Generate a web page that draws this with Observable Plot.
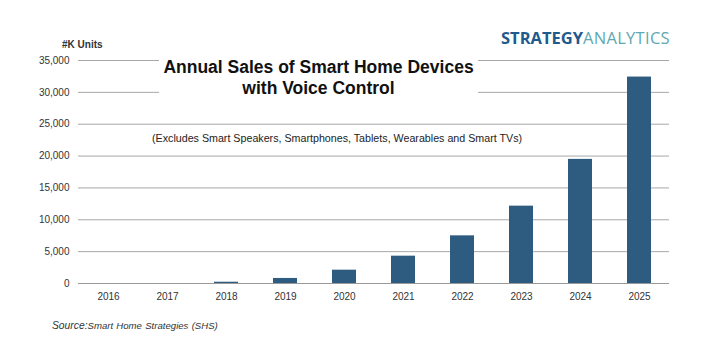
<!DOCTYPE html>
<html>
<head>
<meta charset="utf-8">
<script src="https://cdn.jsdelivr.net/npm/d3@7"></script>
<script src="https://cdn.jsdelivr.net/npm/@observablehq/plot@0.6"></script>
<style>
  html, body { margin: 0; padding: 0; background: #fff; }
  #wrap { position: relative; width: 709px; height: 359px; font-family: "Liberation Sans", Arial, sans-serif; }
  .ov { position: absolute; white-space: nowrap; }
</style>
</head>
<body>
<div id="wrap"></div>
<script>
const years = ["2016","2017","2018","2019","2020","2021","2022","2023","2024","2025"];
const units = [0, 0, 200, 790, 2090, 4290, 7480, 12140, 19480, 32400];
const yTicks = [0, 5000, 10000, 15000, 20000, 25000, 30000, 35000];
const titleLines = ["Annual Sales of Smart Home Devices", "with Voice Control"];
const subtitle = "(Excludes Smart Speakers, Smartphones, Tablets, Wearables and Smart TVs)";
const yLabel = "#K Units";
const sourceLabel = "Source:";
const sourceText = "Smart Home Strategies (SHS)";
const logoA = "STRATEGY";
const logoB = "ANALYTICS";

const data = years.map((y, i) => ({year: y, value: units[i]}));
const fmt = d3.format(",");

const chart = Plot.plot({
  width: 709,
  height: 359,
  marginLeft: 78,
  marginRight: 40,
  marginTop: 60,
  marginBottom: 76,
  style: {fontFamily: "'Liberation Sans', Arial, sans-serif", fontSize: "10px", color: "#333", background: "#fff"},
  x: {domain: years, paddingInner: 0.59, paddingOuter: 0.295, label: null, tickSize: 0, tickPadding: 9},
  y: {domain: [0, 35000], label: null, ticks: yTicks, tickFormat: fmt, tickSize: 0, tickPadding: 9},
  marks: [
    Plot.gridY(yTicks, {stroke: "#a8a8a8", strokeOpacity: 1, strokeWidth: 1}),
    Plot.ruleX([0], {frameAnchor: "left", stroke: "#a8a8a8"}),
    Plot.barY(data, {x: "year", y: "value", fill: "#2e5b80"}),
    Plot.ruleY([0], {stroke: "#999"})
  ]
});
const wrap = document.getElementById("wrap");
wrap.appendChild(chart);

function ov(html, css) {
  const d = document.createElement("div");
  d.className = "ov";
  d.innerHTML = html;
  Object.assign(d.style, css);
  wrap.appendChild(d);
  return d;
}
// title box
ov(titleLines.join("<br>"), {left: "159px", top: "54px", width: "319px", height: "45px", background: "#fff",
  textAlign: "center", fontWeight: "bold", fontSize: "17.5px", lineHeight: "21px", color: "#111", paddingTop: "3px"});
ov(subtitle, {left: "152px", top: "132px", fontSize: "10.7px", color: "#222"});
ov(yLabel, {left: "62px", top: "39px", fontSize: "10px", fontWeight: "bold", color: "#333"});
ov(`<span style="color:#1f5a8e;font-weight:700">${logoA}</span><span style="color:#5fa8b2;font-weight:400;letter-spacing:0.3px">${logoB}</span>`,
  {left: "501px", top: "26px", fontFamily: "'Open Sans', sans-serif", fontSize: "16.5px", letterSpacing: "0px"});
ov(`<span style="font-size:10.3px">${sourceLabel}</span><span style="word-spacing:0.6px">${sourceText}</span>`, {left: "52px", top: "320px", fontStyle: "italic", fontSize: "9.6px", color: "#333"});
</script>
</body>
</html>
